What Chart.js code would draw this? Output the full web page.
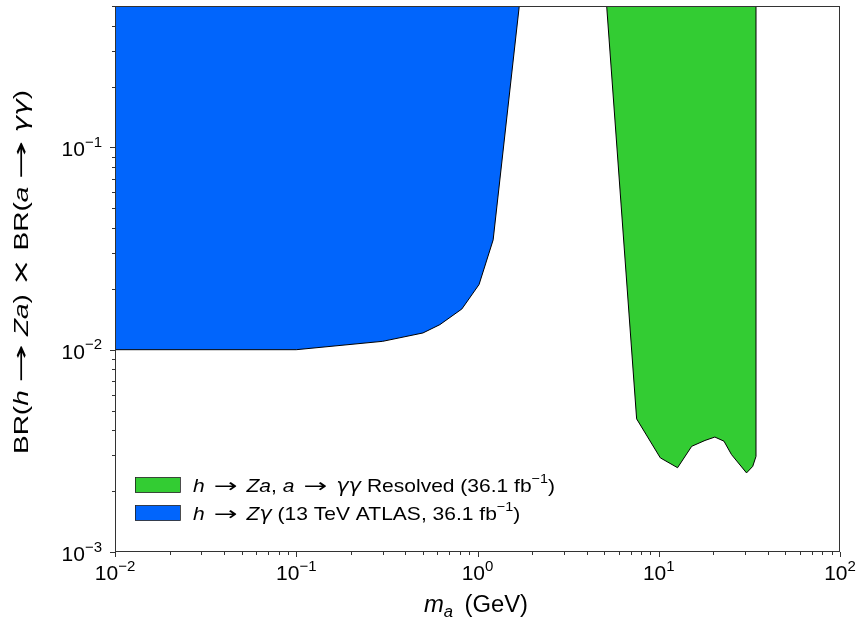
<!DOCTYPE html>
<html>
<head>
<meta charset="utf-8">
<script src="https://cdn.jsdelivr.net/npm/chart.js@4/dist/chart.umd.min.js"></script>
<style>
html,body{margin:0;padding:0;background:#fff;}
#wrap{width:863px;height:624px;position:relative;}
</style>
</head>
<body>
<div id="wrap"><canvas id="c" width="863" height="624"></canvas></div>
<script>
// ---- data ----
const zgammaMass = [0.01, 0.1, 0.3, 0.5, 0.62, 0.82, 1.02, 1.22, 1.70];
const zgammaLimit = [0.01, 0.01, 0.011, 0.0121, 0.0133, 0.0159, 0.021, 0.0349, 0.5];
const resolvedMass = [5.16, 7.55, 10.2, 12.7, 15.2, 18.0, 20.4, 22.9, 25.2, 30.5, 33.0, 34.4, 34.4];
const resolvedLimit = [0.5, 0.00455, 0.00292, 0.00261, 0.00333, 0.00356, 0.0037, 0.00353, 0.00303, 0.00246, 0.00265, 0.00297, 0.5];
const xTickValues = [0.01, 0.1, 1, 10, 100];
const xTickExponents = ['\u22122', '\u22121', '0', '1', '2'];
const yTickValues = [0.001, 0.01, 0.1];
const yTickExponents = ['\u22123', '\u22122', '\u22121'];
const legendLabels = ['h \u2192 Za, a \u2192 \u03B3\u03B3 Resolved (36.1 fb\u207B\u00B9)', 'h \u2192 Z\u03B3 (13 TeV ATLAS, 36.1 fb\u207B\u00B9)'];

const GREEN = '#33cc33';
const BLUE = '#0165fc';
const FONT = "'Liberation Sans', Arial, sans-serif";
const MATH = "'DejaVu Sans', sans-serif";

function toPts(xs, ys){ return xs.map((x,i)=>({x:x, y:ys[i]})); }

function decadeTicks(values, max){
  const out = [];
  for (const d of values){
    out.push({value:d, major:true});
    for (let m = 2; m <= 9; m++){
      const v = m*d;
      if (v <= max*1.0000001) out.push({value:v, major:false});
    }
  }
  return out;
}

// rich text segments: [text, style, hscale]; '' normal, 'i' italic, 's' superscript, 'b' italic subscript,
// 'a' math arrow/operator, 'g' math italic greek
function fontFor(st, size){
  if (st === 's') return `${Math.round(size*0.7)}px ${FONT}`;
  if (st === 'b') return `italic ${Math.round(size*0.7)}px ${FONT}`;
  if (st === 'i') return `italic ${size}px ${FONT}`;
  if (st === 'a') return `${size}px ${MATH}`;
  if (st === 'g') return `italic ${size}px ${MATH}`;
  return `${size}px ${FONT}`;
}
function richWidth(ctx, segs, size){
  let w = 0;
  for (const [t, st, hs] of segs){ ctx.font = fontFor(st, size); w += ctx.measureText(t).width * (hs || 1); }
  return w;
}
function drawRich(ctx, segs, x, y, size, target){
  const nat = richWidth(ctx, segs, size);
  const k = target ? target / nat : 1;
  ctx.save();
  ctx.translate(x, y);
  ctx.scale(k, 1);
  ctx.textBaseline = 'alphabetic';
  ctx.textAlign = 'left';
  let cx = 0;
  for (const [t, st, hs] of segs){
    ctx.font = fontFor(st, size);
    let dy = 0;
    if (st === 's') dy = -size*0.45;
    if (st === 'b') dy = size*0.22;
    const h = hs || 1;
    ctx.save();
    ctx.translate(cx, dy);
    ctx.scale(h, 1);
    ctx.fillText(t, 0, 0);
    ctx.restore();
    cx += ctx.measureText(t).width * h;
  }
  ctx.restore();
  return nat * k;
}

const AR = [' \u2192 ','a', 1.35];
const SPC = [' ',''];
const ARW = ['\u2192','a', 1.65];
const legendSegs = [
  [['h','i'],AR,['Za','i'],[', ',''],['a','i'],AR,['\u03B3\u03B3','g'],[' Resolved (36.1 fb',''],['\u22121','s'],[')','']],
  [['h','i'],AR,['Z','i'],['\u03B3','g'],[' (13 TeV ATLAS, 36.1 fb',''],['\u22121','s'],[')','']]
];
const yTitleSegs = [['BR(',''],['h','i'],SPC,ARW,SPC,['Za','i'],[')',''],SPC,['\u00D7','a',1.2],SPC,['BR(',''],['a','i'],SPC,ARW,SPC,['\u03B3\u03B3','g'],[')','']];
const xTitleSegs = [['m','i'],['a','b'],['\u2009 (GeV)','']];

const TICK = 21;
const decor = {
  id: 'decor',
  afterDatasetsDraw(chart){
    const {ctx, chartArea:a, scales} = chart;
    ctx.save();
    // frame
    ctx.strokeStyle = '#333';
    ctx.lineWidth = 1;
    ctx.strokeRect(a.left+0.5, a.top+0.5, a.right-a.left-1, a.bottom-a.top-1);
    // ticks
    ctx.beginPath();
    for (const t of scales.x.ticks){
      const px = Math.round(scales.x.getPixelForValue(t.value)) + 0.5;
      const len = t.major ? 5 : 3;
      ctx.moveTo(px, a.bottom); ctx.lineTo(px, a.bottom + len);
    }
    for (const t of scales.y.ticks){
      const py = Math.round(scales.y.getPixelForValue(t.value)) + 0.5;
      const len = t.major ? 5 : 3;
      ctx.moveTo(a.left, py); ctx.lineTo(a.left - len, py);
    }
    ctx.stroke();
    // tick labels
    ctx.fillStyle = '#000';
    xTickValues.forEach((v, i) => {
      const segs = [['10',''],[xTickExponents[i],'s']];
      const w = richWidth(ctx, segs, TICK);
      const px = scales.x.getPixelForValue(v);
      drawRich(ctx, segs, px - w/2, a.bottom + 28, TICK);
    });
    yTickValues.forEach((v, i) => {
      const segs = [['10',''],[yTickExponents[i],'s']];
      const w = richWidth(ctx, segs, TICK);
      const py = scales.y.getPixelForValue(v);
      drawRich(ctx, segs, a.left - 13 - w, py + 9, TICK);
    });
    // legend
    const colors = [GREEN, BLUE];
    const rows = [485, 513];
    const nat0 = richWidth(ctx, legendSegs[0], 19);
    const k = 362 / nat0;
    for (let i = 0; i < 2; i++){
      ctx.fillStyle = colors[i];
      ctx.fillRect(135, rows[i]-7.5, 45, 15);
      ctx.strokeStyle = '#222';
      ctx.lineWidth = 0.8;
      ctx.strokeRect(135.5, rows[i]-7.5, 45, 15);
      ctx.fillStyle = '#000';
      drawRich(ctx, legendSegs[i], 193, rows[i]+7, 19, richWidth(ctx, legendSegs[i], 19) * k);
    }
    // axis titles
    ctx.fillStyle = '#000';
    drawRich(ctx, xTitleSegs, 476 - 52, 612, 23, 104);
    ctx.save();
    ctx.translate(28, 272);
    ctx.rotate(-Math.PI/2);
    drawRich(ctx, yTitleSegs, -182, 0, 21, 364);
    ctx.restore();
    ctx.restore();
  }
};

new Chart(document.getElementById('c'), {
  type: 'line',
  data: {
    datasets: [
      {
        label: legendLabels[0],
        data: toPts(resolvedMass, resolvedLimit),
        backgroundColor: GREEN,
        borderColor: '#000',
        borderWidth: 1,
        pointRadius: 0,
        tension: 0,
        fill: 'end'
      },
      {
        label: legendLabels[1],
        data: toPts(zgammaMass, zgammaLimit),
        backgroundColor: BLUE,
        borderColor: '#000',
        borderWidth: 1,
        pointRadius: 0,
        tension: 0,
        fill: 'end'
      }
    ]
  },
  options: {
    responsive: false,
    animation: false,
    events: [],
    layout: { padding: { top: 6, right: 23, left: 0, bottom: 0 } },
    plugins: { legend: { display: false }, tooltip: { enabled: false }, title: { display: false } },
    scales: {
      x: {
        type: 'logarithmic',
        min: 0.01, max: 100,
        grid: { display: false },
        border: { display: false },
        afterBuildTicks(scale){ scale.ticks = decadeTicks(xTickValues, 100); },
        afterFit(scale){ scale.height = 72; scale.paddingLeft = 0; scale.paddingRight = 0; },
        ticks: { display: false }
      },
      y: {
        type: 'logarithmic',
        min: 0.001, max: 0.5,
        grid: { display: false },
        border: { display: false },
        afterBuildTicks(scale){ scale.ticks = decadeTicks(yTickValues, 0.5); },
        afterFit(scale){ scale.width = 115; scale.paddingTop = 0; scale.paddingBottom = 0; },
        ticks: { display: false }
      }
    }
  },
  plugins: [decor]
});
</script>
</body>
</html>
